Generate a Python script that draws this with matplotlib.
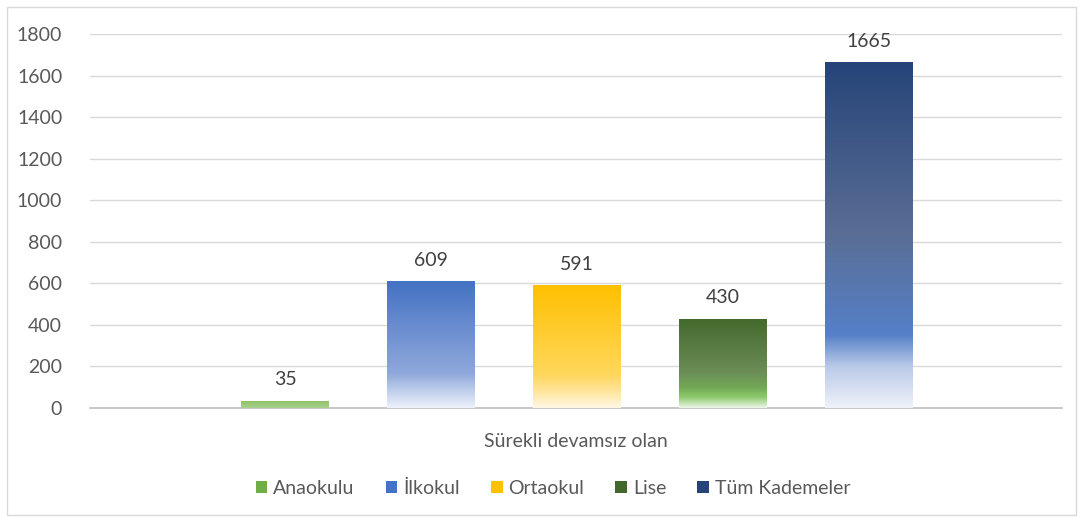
import matplotlib
matplotlib.use("Agg")
import matplotlib.pyplot as plt
import numpy as np
from matplotlib.colors import LinearSegmentedColormap
from matplotlib.patches import Rectangle, Patch

plt.rcParams["font.family"] = ["Lato", "DejaVu Sans"]

categories = ["Anaokulu", "İlkokul", "Ortaokul", "Lise", "Tüm Kademeler"]
values = [35, 609, 591, 430, 1665]
group_label = "Sürekli devamsız olan"
legend_colors = ["#70ad47", "#4472c4", "#ffc000", "#43682b", "#264478"]

# gradient stops (0 = bottom of bar, 1 = top)
gradients = [
    [(0.0, "#a9d18e"), (1.0, "#8cc063")],
    [(0.0, "#eef2fa"), (0.12, "#c4d2ee"), (0.27, "#8fa8db"), (1.0, "#4472c4")],
    [(0.0, "#fff8e6"), (0.12, "#ffe7a3"), (0.27, "#ffd75c"), (1.0, "#ffc000")],
    [(0.0, "#eef6ea"), (0.12, "#8cca6c"), (0.22, "#74a956"), (0.4, "#6b8d56"), (1.0, "#44692c")],
    [(0.0, "#eef2fa"), (0.12, "#b9c9e8"), (0.21, "#5580c8"), (0.5, "#5a6e96"), (1.0, "#264478")],
]

fig = plt.figure(figsize=(10.83, 5.19), dpi=100)
ax = fig.add_axes([90 / 1083, 111 / 519, 972 / 1083, 374 / 519])

fig.patches.append(Rectangle((7 / 1083, 4 / 519), 1069 / 1083, 508 / 519,
                             transform=fig.transFigure, fill=False,
                             edgecolor="#d9d9d9", linewidth=1))

x = np.arange(len(categories))
bars = ax.bar(x + 0.008, values, width=0.6, color="none", edgecolor="none", zorder=3)
for b, stops in zip(bars, gradients):
    cmap = LinearSegmentedColormap.from_list("g", stops)
    grad = np.linspace(0, 1, 256).reshape(-1, 1)
    im = ax.imshow(grad, cmap=cmap, origin="lower", aspect="auto",
                   extent=[b.get_x(), b.get_x() + b.get_width(), 0, b.get_height()],
                   zorder=3)
    im.set_clip_path(b)
    ax.text(b.get_x() + b.get_width() / 2, b.get_height() + 60, f"{b.get_height():.0f}",
            ha="center", va="bottom", fontsize=14, color="#404040")

ax.set_xlim(2 - 3.33, 2 + 3.33)
ax.set_ylim(0, 1800)
ax.set_yticks(range(0, 1801, 200))
ax.yaxis.grid(True, color="#d9d9d9", linewidth=1)
ax.set_axisbelow(True)
for s in ["top", "right", "left"]:
    ax.spines[s].set_visible(False)
ax.spines["bottom"].set_color("#bfbfbf")
ax.spines["bottom"].set_linewidth(1.2)
ax.tick_params(axis="y", length=0, labelsize=14, labelcolor="#595959", pad=20)
ax.set_xticks([2])
ax.set_xticklabels([group_label], fontsize=14, color="#595959")
ax.tick_params(axis="x", length=0, pad=18)

handles = [Patch(facecolor=c, edgecolor="none") for c in legend_colors]
fig.legend(handles, categories, loc="center", bbox_to_anchor=(553 / 1083, 31 / 519),
           ncol=5, frameon=False, fontsize=14, labelcolor="#595959",
           handlelength=0.6, handleheight=0.6, handletextpad=0.3, columnspacing=1.6)

fig.savefig("out.png", dpi=100)
